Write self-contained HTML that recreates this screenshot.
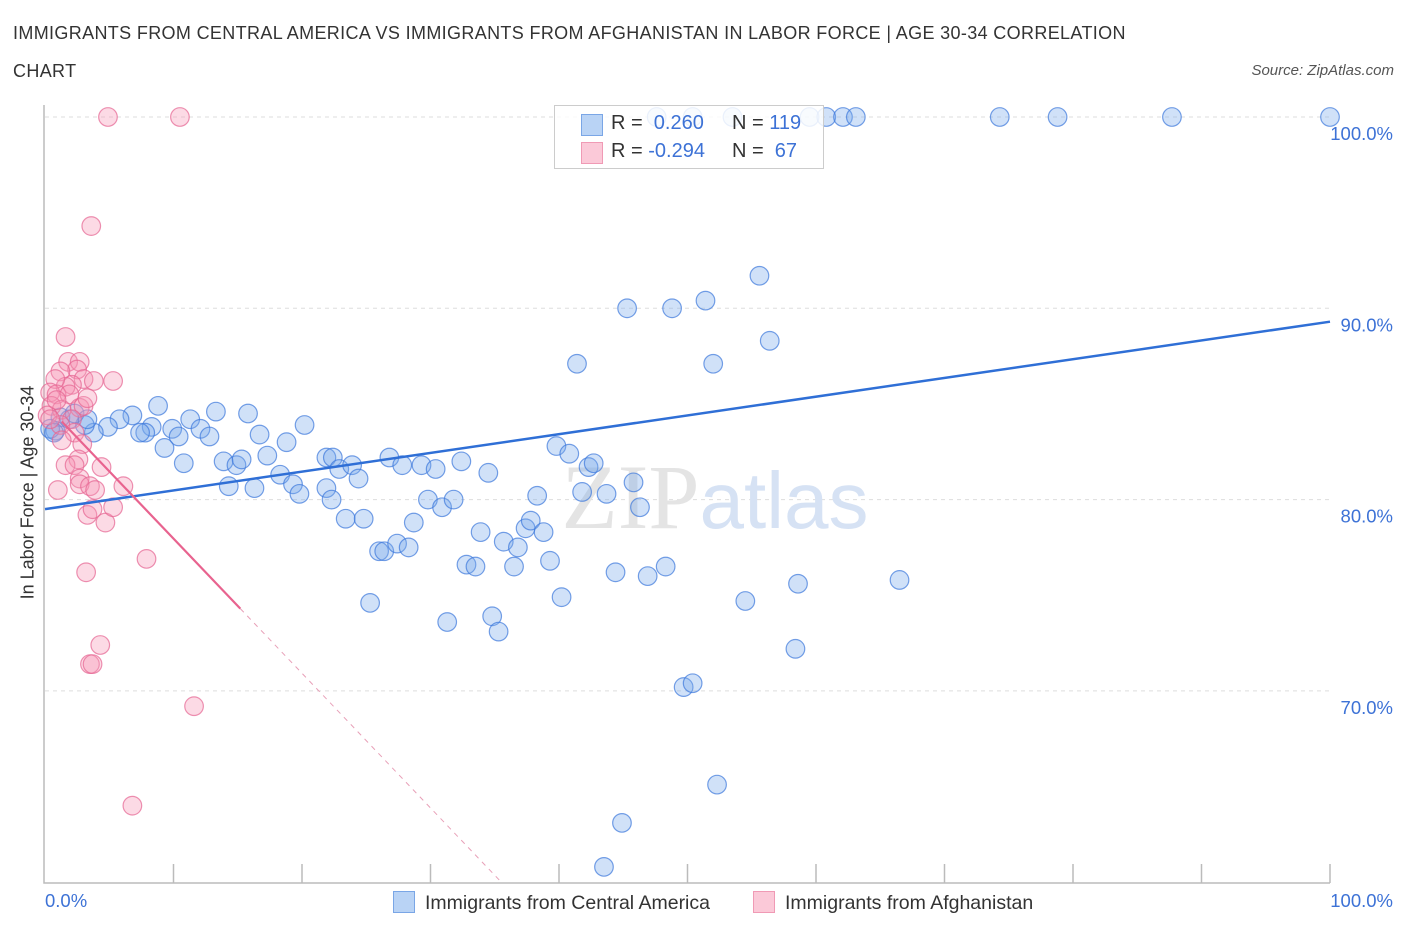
<!DOCTYPE html>
<html><head><meta charset="utf-8"><style>
body{margin:0;background:#fff;font-family:"Liberation Sans",sans-serif;}
#wrap{position:relative;width:1406px;height:930px;overflow:hidden;}
.t{position:absolute;color:#333;}
</style></head><body>
<div id="wrap">
<div class="t" style="left:13px;top:14px;font-size:18px;line-height:38px;width:1150px;letter-spacing:0.35px;">IMMIGRANTS FROM CENTRAL AMERICA VS IMMIGRANTS FROM AFGHANISTAN IN LABOR FORCE | AGE 30-34 CORRELATION CHART</div>
<div class="t" style="right:12px;top:62px;font-size:15px;font-style:italic;color:#555;">Source: ZipAtlas.com</div>
<svg id="svg" width="1406" height="930" style="position:absolute;left:0;top:0"></svg>
</div>
<script>
const blueX=[47.6,50.4,53.5,59.5,60.8,62.1,63.1,74.3,78.8,87.7,100,55.6,45.3,48.8,51.4,56.4,52.0,41.4,8.8,13.3,15.8,6.8,20.2,11.3,9.9,5.8,4.9,8.3,7.8,12.1,12.8,10.4,16.7,7.4,3.8,3.1,1.9,1.2,0.8,0.4,2.3,3.3,9.3,18.8,10.8,13.9,14.9,15.3,17.3,14.3,16.3,18.3,19.3,19.8,21.9,22.4,21.9,22.9,23.9,24.4,22.3,23.4,24.8,26.8,27.8,29.3,30.4,32.4,34.5,29.8,30.9,31.8,28.7,26.0,26.4,27.4,28.3,25.3,33.9,32.8,33.5,35.7,36.8,36.5,37.4,37.8,38.8,38.3,39.3,39.8,40.8,42.3,42.7,41.8,43.7,45.8,46.3,40.2,44.4,46.9,48.3,31.3,34.8,35.3,49.7,50.4,54.5,58.6,58.4,66.5,52.3,44.9,43.5,0.7];
const blueY=[100,100,100,100,100,100,100,100,100,100,100,91.7,90.0,90.0,90.4,88.3,87.1,87.1,84.9,84.6,84.5,84.4,83.9,84.2,83.7,84.2,83.8,83.8,83.5,83.7,83.3,83.3,83.4,83.5,83.5,83.9,84.2,84.3,83.6,83.7,84.5,84.2,82.7,83.0,81.9,82.0,81.8,82.1,82.3,80.7,80.6,81.3,80.8,80.3,82.2,82.2,80.6,81.6,81.8,81.1,80.0,79.0,79.0,82.2,81.8,81.8,81.6,82.0,81.4,80.0,79.6,80.0,78.8,77.3,77.3,77.7,77.5,74.6,78.3,76.6,76.5,77.8,77.5,76.5,78.5,78.9,78.3,80.2,76.8,82.8,82.4,81.7,81.9,80.4,80.3,80.9,79.6,74.9,76.2,76.0,76.5,73.6,73.9,73.1,70.2,70.4,74.7,75.6,72.2,75.8,65.1,63.1,60.8,83.5];
const pinkX=[4.9,10.5,3.6,1.6,1.8,2.7,2.5,1.2,3.0,3.8,5.3,2.1,1.6,0.8,0.4,0.9,1.9,0.5,1.3,2.7,3.0,2.1,0.2,1.2,2.3,1.3,2.9,2.6,1.6,2.3,4.4,2.7,2.7,3.5,3.9,1.0,6.1,3.3,3.7,4.7,5.3,7.9,3.2,4.3,3.5,3.7,11.6,6.8,0.9,0.4,3.3];
const pinkY=[100,100,94.3,88.5,87.2,87.2,86.8,86.7,86.3,86.2,86.2,86.0,85.9,86.3,85.6,85.5,85.5,84.9,84.7,84.8,84.9,84.2,84.4,83.9,83.5,83.1,82.9,82.1,81.8,81.8,81.7,81.1,80.8,80.7,80.5,80.5,80.7,79.2,79.5,78.8,79.6,76.9,76.2,72.4,71.4,71.4,69.2,64.0,85.2,84.2,85.3];
const blueTrend=[79.5,89.3]; // y at x=0 and x=100
const pinkTrend=[85.0,74.3]; // y at x=0 and at x=15.2
const pinkSolidEnd=15.2;
const yTicks=[100,90,80,70];
const xTicksN=10;

const svg=document.getElementById('svg');const NS='http://www.w3.org/2000/svg';
const X=v=>45+v*12.85, Y=v=>117+(100-v)*19.13;
function mk(t,a,p){const e=document.createElementNS(NS,t);for(const k in a)e.setAttribute(k,a[k]);(p||svg).appendChild(e);return e;}
yTicks.forEach(v=>{
 const g=mk('line',{x1:45,x2:1330,y1:Y(v),y2:Y(v),stroke:'#ddd','stroke-dasharray':'4,4'});
 
 
 const t=mk('text',{x:1393,y:Y(v)+23,'text-anchor':'end','font-size':18.5,fill:'#3d72d6','font-family':'Liberation Sans'});
 t.textContent=v.toFixed(1)+'%';
 
 
});
const wm=mk('text',{x:715,y:528,'text-anchor':'middle','font-size':92,'font-family':'Liberation Serif',fill:'#e4e4e4'});
wm.innerHTML='ZIP<tspan fill="#d6e2f4" font-family="Liberation Sans" font-size="80">atlas</tspan>';


const ax=mk('path',{d:'M44,105 V883 H1330',fill:'none',stroke:'#bbb','stroke-width':1.5});


for(let i=1;i<=xTicksN;i++){const l=mk('line',{x1:X(i*10),x2:X(i*10),y1:864,y2:883,stroke:'#bbb','stroke-width':1.5});
 
 }
function pts(xs,ys,fill,stroke,name){xs.forEach((x,i)=>{const c=mk('circle',{cx:X(x),cy:Y(ys[i]),r:9.3,fill:fill,stroke:stroke,'stroke-width':1.2});
 
 });}
pts(blueX,blueY,'rgba(120,170,235,0.35)','rgba(60,120,220,0.7)','central-america-point');
pts(pinkX,pinkY,'rgba(245,150,180,0.35)','rgba(230,100,145,0.7)','afghanistan-point');
const bl=mk('line',{x1:X(0),y1:Y(blueTrend[0]),x2:X(100),y2:Y(blueTrend[1]),stroke:'#2f6fd6','stroke-width':2.5});


const slope=(pinkTrend[1]-pinkTrend[0])/pinkSolidEnd;
const pl=mk('line',{x1:X(1.3),y1:Y(pinkTrend[0]+slope*1.3),x2:X(pinkSolidEnd),y2:Y(pinkTrend[1]),stroke:'#e8638f','stroke-width':2.2});


const xe=(60-pinkTrend[0])/slope;
const pd=mk('line',{x1:X(pinkSolidEnd),y1:Y(pinkTrend[1]),x2:X(xe),y2:Y(60),stroke:'#e8a0b8','stroke-width':1,'stroke-dasharray':'5,5'});


</script>
<div style="position:absolute;left:554px;top:105px;width:268px;height:62px;border:1px solid #ccc;background:rgba(255,255,255,0.85);font-size:20px;color:#333;">
 <div style="position:absolute;left:26px;top:8px;width:20px;height:20px;background:#b9d3f5;border:1px solid #7aa6e6;"></div>
 <div style="position:absolute;left:56px;top:6px;">R = &nbsp;<span style="color:#3d72d6">0.260</span></div>
 <div style="position:absolute;left:177px;top:6px;">N = <span style="color:#3d72d6">119</span></div>
 <div style="position:absolute;left:26px;top:36px;width:20px;height:20px;background:#fbc9d8;border:1px solid #f09ab5;"></div>
 <div style="position:absolute;left:56px;top:34px;">R = <span style="color:#3d72d6">-0.294</span></div>
 <div style="position:absolute;left:177px;top:34px;">N = &nbsp;<span style="color:#3d72d6">67</span></div>
</div>
<div class="t" style="left:-82px;top:482px;width:220px;text-align:center;font-size:18px;transform:rotate(-90deg);">In Labor Force | Age 30-34</div>
<div class="t" style="left:45px;top:890px;font-size:18.5px;color:#3d72d6;">0.0%</div>
<div class="t" style="right:13px;top:890px;font-size:18.5px;color:#3d72d6;">100.0%</div>
<div style="position:absolute;left:393px;top:891px;font-size:19.5px;color:#333;">
 <span style="display:inline-block;width:20px;height:20px;background:#b9d3f5;border:1px solid #7aa6e6;vertical-align:-4px;margin-right:10px;"></span>Immigrants from Central America</div>
<div style="position:absolute;left:753px;top:891px;font-size:19.5px;color:#333;">
 <span style="display:inline-block;width:20px;height:20px;background:#fbc9d8;border:1px solid #f09ab5;vertical-align:-4px;margin-right:10px;"></span>Immigrants from Afghanistan</div>
</body></html>
